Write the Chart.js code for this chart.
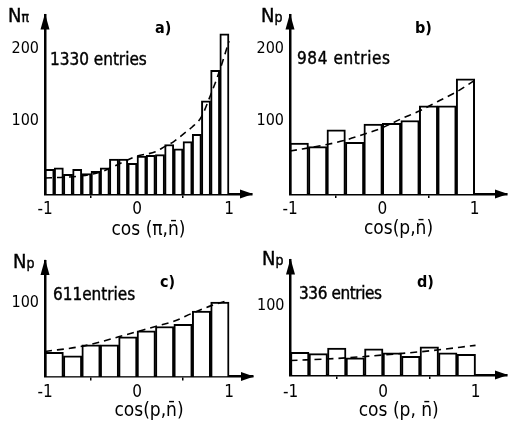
<!DOCTYPE html>
<html>
<head>
<meta charset="utf-8">
<script src="https://cdn.jsdelivr.net/npm/chart.js@4.4.1/dist/chart.umd.min.js"></script>
<style>
html, body { margin: 0; padding: 0; background: #fff; }
body { width: 508px; height: 426px; position: relative; overflow: hidden;
       font-family: "DejaVu Sans Condensed", "DejaVu Sans", sans-serif; color: #000; }
canvas { position: absolute; }
.lbl { position: absolute; line-height: 1; white-space: nowrap; -webkit-text-stroke: 0.4px #000; }
.big { font-size: 17px; }
.nn { font-size: 20px; }
.sub { font-size: 14px; }
.tag { font-size: 16px; font-weight: bold; -webkit-text-stroke: 0; }
</style>
</head>
<body>
<canvas id="pa" width="254" height="245" style="left:0;top:0"></canvas>
<canvas id="pb" width="254" height="245" style="left:254px;top:0"></canvas>
<canvas id="pc" width="254" height="181" style="left:0;top:245px"></canvas>
<canvas id="pd" width="254" height="181" style="left:254px;top:245px"></canvas>

<div class="lbl nn" style="left:8px;top:5px">N<span class="sub">π</span></div>
<div class="lbl tag" style="left:155px;top:20px">a)</div>
<div class="lbl big" style="left:50px;top:51px">1330 entries</div>

<div class="lbl nn" style="left:261px;top:5px">N<span class="sub">p</span></div>
<div class="lbl tag" style="left:415px;top:20px">b)</div>
<div class="lbl big" style="left:297px;top:50px;letter-spacing:0.6px">984 entries</div>

<div class="lbl nn" style="left:13px;top:251px">N<span class="sub">p</span></div>
<div class="lbl tag" style="left:160px;top:274px">c)</div>
<div class="lbl big" style="left:53px;top:286px">611entries</div>

<div class="lbl nn" style="left:262px;top:248px">N<span class="sub">p</span></div>
<div class="lbl tag" style="left:417px;top:274px">d)</div>
<div class="lbl big" style="left:299px;top:285px;letter-spacing:-0.4px">336 entries</div>

<script>
// histogram a: 20 bins in cos(pi, nbar)
var centersA = [-0.95, -0.85, -0.75, -0.65, -0.55, -0.45, -0.35, -0.25, -0.15, -0.05,
                0.05, 0.15, 0.25, 0.35, 0.45, 0.55, 0.65, 0.75, 0.85, 0.95];
var countsA = [34, 36, 27, 34, 28, 31, 36, 48, 48, 42, 52, 53, 54, 68, 62, 72, 82, 128, 170, 220];
var fitXA = [-1, -0.8, -0.6, -0.4, -0.2, 0, 0.2, 0.3, 0.4, 0.5, 0.6, 0.7, 0.8, 0.9, 1];
var fitYA = [22, 23, 25, 30, 41, 52, 58, 65, 72, 82, 92, 106, 136, 170, 210];

// histograms b, c, d: 10 bins
var centers10 = [-0.9, -0.7, -0.5, -0.3, -0.1, 0.1, 0.3, 0.5, 0.7, 0.9];
var countsB = [70, 65, 88, 71, 96, 97, 101, 121, 121, 158];
var fitXB = [-1, -0.6, -0.4, -0.2, 0, 0.2, 0.4, 0.6, 0.8, 1];
var fitYB = [59, 68, 74, 82, 91, 103, 114, 127, 140, 156];

var countsC = [33, 28, 43, 43, 54, 62, 68, 71, 89, 101];
var fitXC = [-1, -0.6, -0.4, -0.2, 0, 0.2, 0.4, 0.6, 0.8, 1];
var fitYC = [34, 41, 47, 54, 61, 68, 75, 86, 96, 104];

var countsD = [33, 31, 39, 25, 38, 32, 27, 41, 32, 30];
var fitXD = [-1, -0.5, 0, 0.5, 1];
var fitYD = [21, 24, 29, 35, 43];

var xTicks = [-1, 0, 1];
var yTicksAB = [100, 200];
var yTicksCD = [100];

var FONT = '"DejaVu Sans Condensed", "DejaVu Sans", sans-serif';

function pts(xs, ys) {
    return xs.map(function (x, i) { return { x: x, y: ys[i] }; });
}

var arrows = {
    id: 'arrows',
    afterDraw: function (chart) {
        var ctx = chart.ctx, a = chart.chartArea;
        ctx.save();
        ctx.fillStyle = '#000';
        ctx.beginPath();
        ctx.moveTo(a.left, a.top - 2);
        ctx.lineTo(a.left - 4.5, a.top + 14);
        ctx.lineTo(a.left + 4.5, a.top + 14);
        ctx.closePath();
        ctx.fill();
        ctx.beginPath();
        ctx.moveTo(a.right + 1, a.bottom);
        ctx.lineTo(a.right - 12, a.bottom - 4.5);
        ctx.lineTo(a.right - 12, a.bottom + 4.5);
        ctx.closePath();
        ctx.fill();
        ctx.restore();
    }
};

function panel(id, p) {
    var ctx = document.getElementById(id).getContext('2d');
    return new Chart(ctx, {
        type: 'bar',
        data: {
            datasets: [{
                type: 'line',
                data: pts(p.fitX, p.fitY),
                borderColor: '#000',
                borderWidth: 1.6,
                borderDash: [7, 5],
                pointRadius: 0,
                cubicInterpolationMode: 'monotone',
                order: 0
            }, {
                type: 'bar',
                data: pts(p.centers, p.counts),
                backgroundColor: '#fff',
                borderColor: '#000',
                borderWidth: 2,
                barPercentage: 1,
                categoryPercentage: 1,
                order: 1
            }]
        },
        options: {
            responsive: false,
            animation: false,
            layout: { padding: { left: 0, top: p.padTop, right: p.padRight, bottom: 0 } },
            plugins: { legend: { display: false }, tooltip: { enabled: false } },
            scales: {
                x: {
                    type: 'linear',
                    offset: false,
                    min: -1,
                    max: p.xMax,
                    afterBuildTicks: function (s) { s.ticks = xTicks.map(function (v) { return { value: v }; }); },
                    afterFit: function (s) { s.height = p.axisH; },
                    grid: { display: true, drawOnChartArea: false, drawTicks: true, tickLength: 4, color: '#000', lineWidth: 1.5 },
                    border: { display: true, color: '#000', width: 2.5 },
                    ticks: {
                        color: '#000', padding: p.tickPad, maxRotation: 0,
                        font: { family: FONT, size: 17, lineHeight: 1 },
                        callback: function (v) { return v === -1 ? '-1' : String(v); }
                    },
                    title: {
                        display: true, text: p.xTitle, color: '#000',
                        font: { family: FONT, size: 19 },
                        padding: { top: 0, bottom: p.titlePad }
                    }
                },
                y: {
                    min: 0,
                    max: p.yMax,
                    afterBuildTicks: function (s) { s.ticks = p.yTicks.map(function (v) { return { value: v }; }); },
                    afterFit: function (s) { s.width = p.axisW; },
                    grid: { display: false, drawTicks: false, tickLength: 0 },
                    border: { display: true, color: '#000', width: 2.5 },
                    ticks: {
                        color: '#000', padding: 6,
                        font: { family: FONT, size: 16 }
                    }
                }
            }
        },
        plugins: [arrows]
    });
}

panel('pa', { centers: centersA, counts: countsA, fitX: fitXA, fitY: fitYA, yTicks: yTicksAB,
    xMax: 1.25, yMax: 245, axisW: 45, axisH: 51, padTop: 10, padRight: 2, tickPad: 3, titlePad: 3.6,
    xTitle: 'cos (π,n\u0304)' });
panel('pb', { centers: centers10, counts: countsB, fitX: fitXB, fitY: fitYB, yTicks: yTicksAB,
    xMax: 1.35, yMax: 245, axisW: 36, axisH: 51, padTop: 10, padRight: 1, tickPad: 3, titlePad: 5,
    xTitle: 'cos(p,n\u0304)' });
panel('pc', { centers: centers10, counts: countsC, fitX: fitXC, fitY: fitYC, yTicks: yTicksCD,
    xMax: 1.26, yMax: 157, axisW: 45, axisH: 49.5, padTop: 16, padRight: 1, tickPad: 4, titlePad: 3.6,
    xTitle: 'cos(p,n\u0304)' });
panel('pd', { centers: centers10, counts: countsD, fitX: fitXD, fitY: fitYD, yTicks: yTicksCD,
    xMax: 1.34, yMax: 166, axisW: 36.5, axisH: 51, padTop: 8, padRight: 1, tickPad: 5, titlePad: 3.6,
    xTitle: 'cos (p, n\u0304)' });
</script>
</body>
</html>
